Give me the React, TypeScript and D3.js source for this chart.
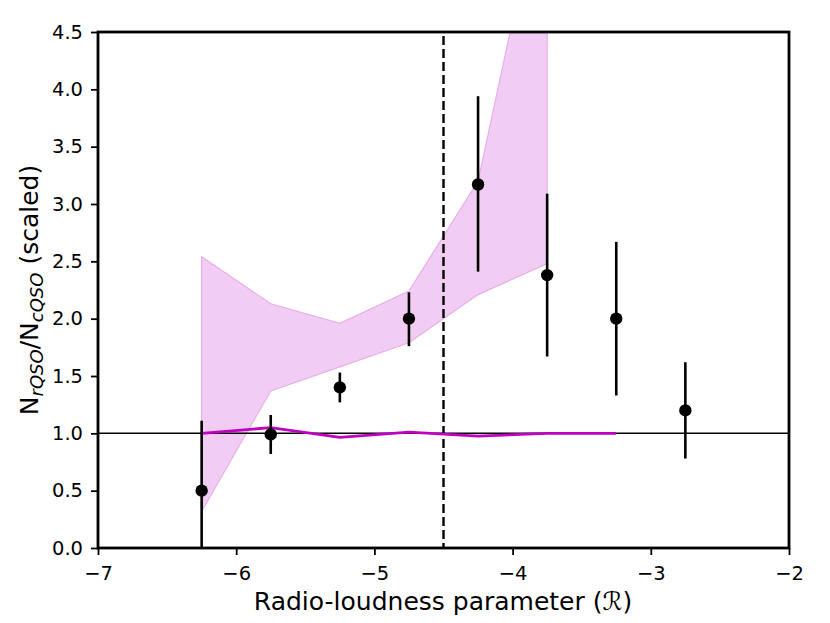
import { useEffect, useRef } from 'react';
import * as d3 from 'd3';

// binned measurements (radio-loudness bin centres)
const binCentres = [-6.25, -5.75, -5.25, -4.75, -4.25, -3.75, -3.25, -2.75];
const ratioValues = [0.5, 0.99, 1.4, 2.0, 3.17, 2.38, 2.0, 1.2];
const errorLow = [0.62, 0.17, 0.13, 0.24, 0.76, 0.71, 0.67, 0.42];
const errorHigh = [0.61, 0.17, 0.13, 0.23, 0.77, 0.71, 0.67, 0.42];

// shaded band
const bandX = [-6.25, -5.75, -5.25, -4.75, -4.25, -3.75];
const bandLower = [0.32, 1.37, 1.58, 1.79, 2.21, 2.48];
const bandUpper = [2.54, 2.13, 1.96, 2.24, 3.2, 6.0];

// magenta reference curve
const curveX = [-6.25, -5.75, -5.25, -4.75, -4.25, -3.75, -3.25];
const curveY = [1.0, 1.05, 0.965, 1.01, 0.975, 1.0, 1.0];

const xTicks = [-7, -6, -5, -4, -3, -2];
const yTicks = [0, 0.5, 1, 1.5, 2, 2.5, 3, 3.5, 4, 4.5];
const cutoff = -4.5;

const width = 830;
const height = 623;

export default function App() {
  const svgRef = useRef<SVGSVGElement>(null);

  useEffect(() => {
    if (!svgRef.current) return;
    const svg = d3.select(svgRef.current);
    svg.selectAll('*').remove();

    const margin = { top: 32, right: 41, bottom: 75, left: 98 };
    const innerWidth = width - margin.left - margin.right;
    const innerHeight = height - margin.top - margin.bottom;
    const font = 'DejaVu Sans, sans-serif';

    const x = d3.scaleLinear().domain([-7, -2]).range([0, innerWidth]);
    const y = d3.scaleLinear().domain([0, 4.5]).range([innerHeight, 0]);

    svg.append('defs').append('clipPath').attr('id', 'plot-clip')
      .append('rect').attr('width', innerWidth).attr('height', innerHeight);

    const g = svg.append('g').attr('transform', `translate(${margin.left},${margin.top})`);
    const plot = g.append('g').attr('clip-path', 'url(#plot-clip)');

    // band
    const band = bandX.map((v, i) => ({ x: v, lo: bandLower[i], hi: bandUpper[i] }));
    plot.append('path')
      .datum(band)
      .attr('fill', '#f1cdf3')
      .attr('stroke', '#e9aee9')
      .attr('stroke-width', 1.2)
      .attr('d', d3.area<{ x: number; lo: number; hi: number }>()
        .x(d => x(d.x))
        .y0(d => y(d.lo))
        .y1(d => y(d.hi)));

    // unity line
    plot.append('line')
      .attr('x1', 0).attr('x2', innerWidth)
      .attr('y1', y(1)).attr('y2', y(1))
      .attr('stroke', '#000').attr('stroke-width', 1.5);

    // cutoff
    plot.append('line')
      .attr('x1', x(cutoff)).attr('x2', x(cutoff))
      .attr('y1', 0).attr('y2', innerHeight)
      .attr('stroke', '#000').attr('stroke-width', 2.4)
      .attr('stroke-dasharray', '9,4')
      .attr('stroke-dashoffset', -4);

    // magenta curve
    plot.append('path')
      .datum(curveX.map((v, i) => [v, curveY[i]] as [number, number]))
      .attr('fill', 'none')
      .attr('stroke', '#c000c0')
      .attr('stroke-width', 2.8)
      .attr('d', d3.line().x(d => x(d[0])).y(d => y(d[1])));

    // error bars + points
    const pts = binCentres.map((v, i) => ({ x: v, y: ratioValues[i], lo: errorLow[i], hi: errorHigh[i] }));
    plot.selectAll('.err')
      .data(pts)
      .enter().append('line')
      .attr('class', 'err')
      .attr('x1', d => x(d.x)).attr('x2', d => x(d.x))
      .attr('y1', d => y(d.y - d.lo)).attr('y2', d => y(d.y + d.hi))
      .attr('stroke', '#000').attr('stroke-width', 2.6);

    plot.selectAll('.dot')
      .data(pts)
      .enter().append('circle')
      .attr('class', 'dot')
      .attr('cx', d => x(d.x)).attr('cy', d => y(d.y))
      .attr('r', 6.2)
      .attr('fill', '#000');

    // axes
    const xAxis = g.append('g')
      .attr('transform', `translate(0,${innerHeight})`)
      .call(d3.axisBottom(x).tickValues(xTicks).tickSize(7).tickPadding(11)
        .tickFormat(d => String(d).replace('-', '\u2212')));
    const yAxis = g.append('g')
      .call(d3.axisLeft(y).tickValues(yTicks).tickSize(7).tickPadding(8)
        .tickFormat(d3.format('.1f')));

    [xAxis, yAxis].forEach(ax => {
      ax.select('.domain').remove();
      ax.selectAll('line').attr('stroke', '#000').attr('stroke-width', 1.8);
      ax.selectAll('text')
        .attr('fill', '#000')
        .style('font-family', font)
        .style('font-size', '19.5px');
    });

    // frame
    g.append('rect')
      .attr('width', innerWidth).attr('height', innerHeight)
      .attr('fill', 'none').attr('stroke', '#000').attr('stroke-width', 2.8);

    // labels
    svg.append('text')
      .attr('x', 443)
      .attr('y', 610)
      .attr('text-anchor', 'middle')
      .style('font-family', font)
      .style('font-size', '25px')
      .text('Radio-loudness parameter (\u211B)');

    const yl = svg.append('text')
      .attr('transform', `translate(38,${margin.top + innerHeight / 2}) rotate(-90)`)
      .attr('text-anchor', 'middle')
      .style('font-family', font)
      .style('font-size', '25px');
    yl.append('tspan').text('N');
    yl.append('tspan').attr('dy', 5).style('font-size', '18px').style('font-style', 'italic').text('rQSO');
    yl.append('tspan').attr('dy', -5).text('/N');
    yl.append('tspan').attr('dy', 5).style('font-size', '18px').style('font-style', 'italic').text('cQSO');
    yl.append('tspan').attr('dy', -5).text(' (scaled)');
  }, []);

  return (
    <svg ref={svgRef} width={width} height={height}
      style={{ display: 'block', position: 'absolute', left: 0, top: 0, background: '#fff' }} />
  );
}
